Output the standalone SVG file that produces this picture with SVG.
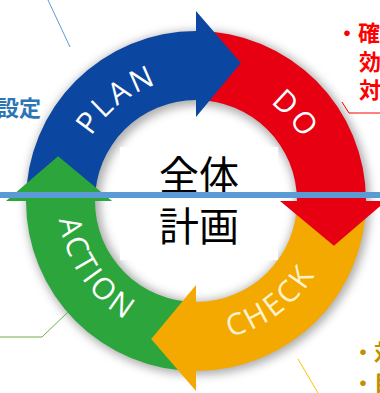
<svg xmlns="http://www.w3.org/2000/svg" width="380" height="393" viewBox="0 0 380 393">
  <defs>
    <filter id="soft" x="-20%" y="-20%" width="140%" height="140%">
      <feGaussianBlur stdDeviation="5"/>
    </filter>
    <!-- baselines for the ring labels (centre 196,201) -->
    <path id="arcPlan" d="M74.2,218.1 A123,123 0 0 1 242.1,86.9"/>
    <path id="arcDo" d="M172.5,80.3 A123,123 0 0 1 312.3,241"/>
    <path id="arcCheck" d="M140.2,329.4 A140,140 0 0 0 335.1,185.2"/>
    <path id="arcAction" d="M72.0,140.5 A138,138 0 0 0 205.6,338.7"/>
    <style>
      .ring-label { font-family: "Open Sans", "DejaVu Sans", sans-serif; font-size: 30px; letter-spacing: 3px; }
      .center-text { font-family: "Noto Sans CJK JP", sans-serif; font-size: 40px; fill: #000; text-anchor: middle; }
      .note { font-family: "Noto Sans CJK JP", sans-serif; font-size: 22px; font-weight: bold; }
      .leader { fill: none; stroke-width: 1; }
    </style>
  </defs>

  <rect width="380" height="393" fill="#fff"/>

  <!-- soft shadow under the ring -->
  <circle cx="198" cy="203" r="135" fill="none" stroke="#000" stroke-opacity="0.32" stroke-width="74" filter="url(#soft)"/>

  <!-- PLAN -->
  <g id="plan">
    <path d="M26,201 A170,170 0 0 1 196,31 L196,100 A101,101 0 0 0 95,201 Z" fill="#0B46A0"/>
  </g>
  <!-- DO -->
  <g id="do">
    <path d="M196,31 A170,170 0 0 1 366,201 L297,201 A101,101 0 0 0 196,100 Z" fill="#E60012"/>
  </g>
  <!-- CHECK -->
  <g id="check">
    <path d="M366,201 A170,170 0 0 1 196,371 L196,302 A101,101 0 0 0 297,201 Z" fill="#F4A900"/>
  </g>
  <!-- ACTION -->
  <g id="action">
    <path d="M196,371 A170,170 0 0 1 26,201 L95,201 A101,101 0 0 0 196,302 Z" fill="#2CA63C"/>
  </g>

  <!-- arrow heads, each laid over the next stage -->
  <g id="heads">
    <polygon points="196,11 240.8,63.1 196,117" fill="#0B46A0"/>
    <polygon points="386,201 333.9,245.8 280,201" fill="#E60012"/>
    <polygon points="196,391 151.2,338.9 196,285" fill="#F4A900"/>
    <polygon points="6,201 58.1,156.2 112,201" fill="#2CA63C"/>
  </g>

  <!-- ring labels -->
  <g id="labels" class="ring-label">
    <text fill="#fff"><textPath href="#arcPlan" startOffset="50%" text-anchor="middle">PLAN</textPath></text>
    <text fill="#fff"><textPath href="#arcDo" startOffset="50%" text-anchor="middle">DO</textPath></text>
    <text fill="#FFF3CF"><textPath href="#arcCheck" startOffset="50%" text-anchor="middle">CHECK</textPath></text>
    <text fill="#fff"><textPath href="#arcAction" startOffset="50%" text-anchor="middle">ACTION</textPath></text>
  </g>

  <!-- centre box -->
  <g id="center">
    <rect x="120" y="147" width="158" height="113" fill="#fff"/>
    <text class="center-text" x="199" y="190">全体</text>
    <text class="center-text" x="199" y="241">計画</text>
  </g>

  <!-- leader lines -->
  <g id="connectors" class="leader">
    <line x1="48" y1="0" x2="70" y2="47" stroke="#5B9BD5"/>
    <polyline points="342,102 349,113 380,113" stroke="#FF0000"/>
    <line x1="298" y1="359" x2="318" y2="393" stroke="#FFC000"/>
    <polyline points="0,337 42,337 68,312" stroke="#70AD47"/>
  </g>

  <!-- side notes -->
  <g id="notes" class="note">
    <text x="41" y="116" fill="#2E75B6" text-anchor="end">設定</text>
    <text x="336" y="41" fill="#FF0000">・確</text>
    <text x="359" y="70" fill="#FF0000">効</text>
    <text x="359" y="98" fill="#FF0000">対</text>
    <text x="352" y="360" fill="#BF9000">・対</text>
    <text x="352" y="391" fill="#BF9000">・目</text>
  </g>

  <!-- horizontal divider -->
  <rect id="divider" x="0" y="192" width="380" height="6" fill="#5B9BD5"/>
</svg>
